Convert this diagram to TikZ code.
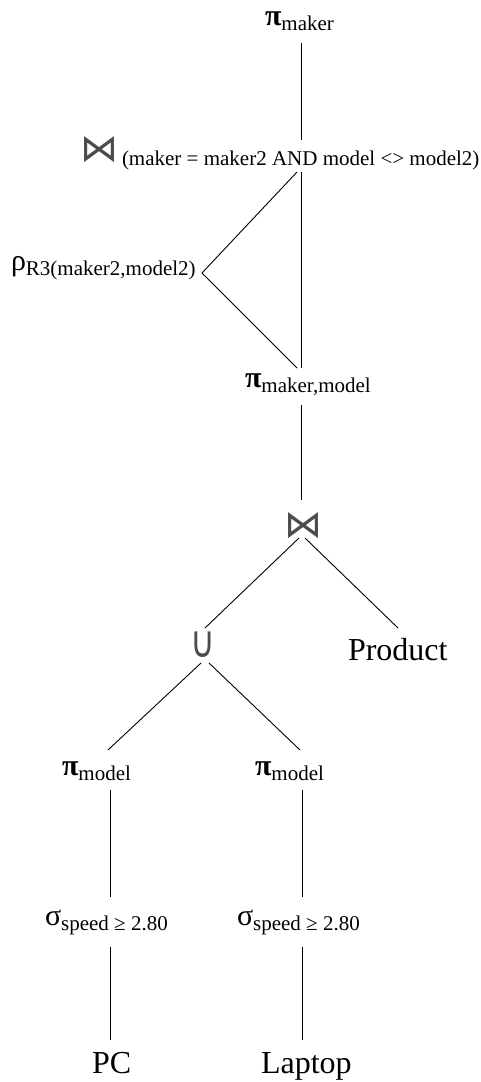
\documentclass[tikz,border=0pt]{standalone}
\usepackage{fontspec}
\setmainfont{Liberation Serif}
\newfontfamily\dejavu{DejaVu Sans}
\newcommand{\opsym}[1]{{\fontsize{30}{30}\selectfont #1}}
\newcommand{\subtxt}[1]{\raisebox{-5pt}{\fontsize{21}{21}\selectfont #1}}
\begin{document}
\begin{tikzpicture}[x=1pt,y=1pt,
  lbl/.style={inner sep=0pt, outer sep=0pt, anchor=base west},
  big/.style={lbl, font=\fontsize{32}{32}\selectfont},
  opglyph/.style={lbl, text=black!70, font=\dejavu\fontsize{38}{38}\selectfont},
  edge/.style={draw=black, line width=0.9pt}]
\useasboundingbox (0,0) rectangle (480,-1082);
% labels
\node[lbl] (pm) at (265,-25) {\opsym{\bfseries π}\subtxt{maker}};
\node[opglyph] (j1) at (80,-161) {⋈};
\node[lbl, font=\fontsize{21}{21}\selectfont] (j1s) at (122,-165) {(maker = maker2 AND model <> model2)};
\node[lbl] (rho) at (11,-270) {\opsym{ρ}\subtxt{R3(maker2,model2)}};
\node[lbl] (pmm) at (245,-387) {\opsym{\bfseries π}\subtxt{maker,model}};
\node[opglyph] (j2) at (284,-537) {⋈};
\node[lbl, text=black!70, font=\dejavu\fontsize{34}{34}\selectfont] (un) at (190,-657) {\scalebox{1}[1.3]{∪}};
\node[big] (prod) at (348,-660) {Product};
\node[lbl] (pml) at (62,-775) {\opsym{\bfseries π}\subtxt{model}};
\node[lbl] (pmr) at (255,-775) {\opsym{\bfseries π}\subtxt{model}};
\node[lbl] (sl) at (45,-925) {\opsym{σ}\subtxt{speed ≥ 2.80}};
\node[lbl] (sr) at (237,-925) {\opsym{σ}\subtxt{speed ≥ 2.80}};
\node[big] (pc) at (92,-1073) {PC};
\node[big] (lap) at (261,-1073) {Laptop};
% attachment points
\coordinate (pm-b) at (301.5,-43);
\coordinate (j1-t) at (301.5,-140);
\coordinate (j1-b) at (301.5,-172);
\coordinate (j1-bl) at (297,-172);
\coordinate (rho-e) at (202,-273);
\coordinate (pmm-t) at (301.5,-368);
\coordinate (pmm-tl) at (297,-368);
\coordinate (pmm-b) at (301.5,-405);
\coordinate (j2-t) at (301.5,-500);
\coordinate (j2-bl) at (299,-538);
\coordinate (j2-br) at (305,-538);
\coordinate (un-t) at (205,-628);
\coordinate (prod-t) at (398,-628);
\coordinate (un-bl) at (201,-663);
\coordinate (un-br) at (209,-663);
\coordinate (pml-t) at (108,-750);
\coordinate (pmr-t) at (300,-750);
\coordinate (pml-b) at (110,-790);
\coordinate (pmr-b) at (302,-790);
\coordinate (sl-t) at (110,-897);
\coordinate (sr-t) at (302,-897);
\coordinate (sl-b) at (110,-947);
\coordinate (sr-b) at (302,-947);
\coordinate (pc-t) at (110,-1040);
\coordinate (lap-t) at (302,-1040);
% connectors
\draw[edge] (pm-b) -- (j1-t);
\draw[edge] (j1-b) -- (pmm-t);
\draw[edge] (j1-bl) -- (rho-e) -- (pmm-tl);
\draw[edge] (pmm-b) -- (j2-t);
\draw[edge] (j2-bl) -- (un-t);
\draw[edge] (j2-br) -- (prod-t);
\draw[edge] (un-bl) -- (pml-t);
\draw[edge] (un-br) -- (pmr-t);
\draw[edge] (pml-b) -- (sl-t);
\draw[edge] (pmr-b) -- (sr-t);
\draw[edge] (sl-b) -- (pc-t);
\draw[edge] (sr-b) -- (lap-t);
\end{tikzpicture}
\end{document}
